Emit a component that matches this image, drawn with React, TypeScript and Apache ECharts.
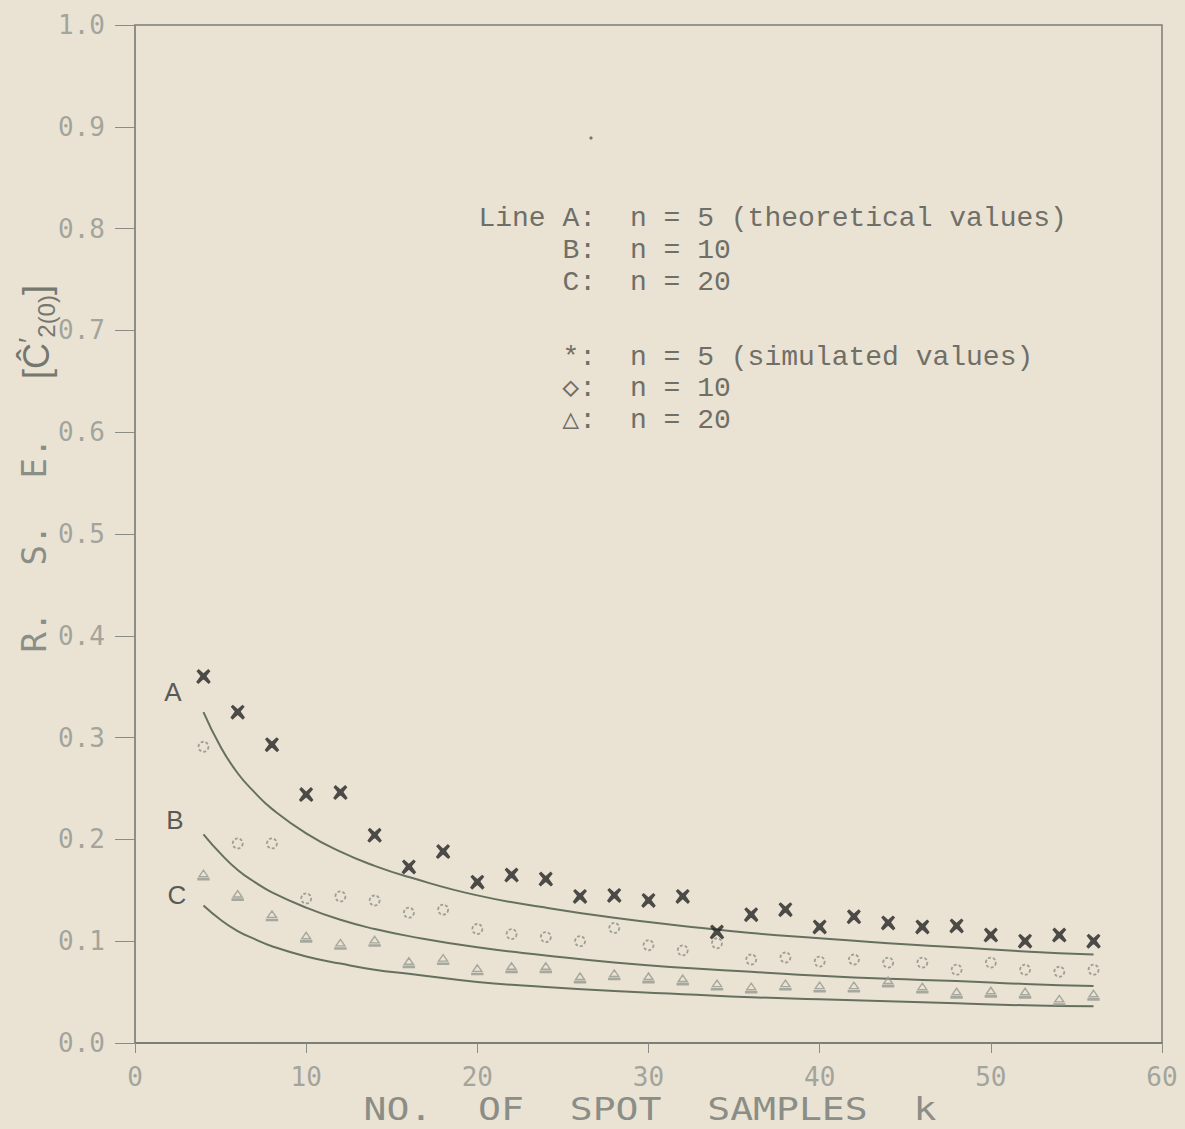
import { useEffect, useRef } from "react";
import * as echarts from "echarts";

// k values (number of spot samples) for simulated points
const K = [4, 6, 8, 10, 12, 14, 16, 18, 20, 22, 24, 26, 28, 30, 32, 34, 36, 38, 40, 42, 44, 46, 48, 50, 52, 54, 56];
// simulated values, n = 5 (stars)
const STAR = [0.360, 0.325, 0.293, 0.244, 0.246, 0.204, 0.173, 0.188, 0.158, 0.165, 0.161, 0.144, 0.145, 0.140, 0.144, 0.109, 0.126, 0.131, 0.114, 0.124, 0.118, 0.114, 0.115, 0.106, 0.100, 0.106, 0.100];
// simulated values, n = 10 (circles)
const CIRC = [0.291, 0.196, 0.196, 0.142, 0.144, 0.140, 0.128, 0.131, 0.112, 0.107, 0.104, 0.100, 0.113, 0.096, 0.091, 0.098, 0.082, 0.084, 0.080, 0.082, 0.079, 0.079, 0.072, 0.079, 0.072, 0.070, 0.072];
// simulated values, n = 20 (triangles)
const TRI = [0.165, 0.145, 0.125, 0.104, 0.097, 0.100, 0.079, 0.082, 0.072, 0.074, 0.074, 0.064, 0.067, 0.064, 0.062, 0.057, 0.054, 0.057, 0.055, 0.055, 0.060, 0.054, 0.049, 0.050, 0.049, 0.042, 0.047];

// theoretical curves
const KL = [4, 5, 6, 7, 8, 10, 12, 14, 16, 20, 24, 28, 32, 36, 40, 44, 48, 52, 56];
const LINE_A = [0.325, 0.291, 0.265, 0.246, 0.230, 0.206, 0.188, 0.174, 0.163, 0.145, 0.133, 0.123, 0.115, 0.108, 0.103, 0.098, 0.094, 0.090, 0.087];
const LINE_B = [0.205, 0.186, 0.170, 0.158, 0.148, 0.133, 0.121, 0.112, 0.105, 0.094, 0.086, 0.079, 0.074, 0.070, 0.066, 0.063, 0.061, 0.058, 0.056];
const LINE_C = [0.135, 0.121, 0.110, 0.102, 0.095, 0.085, 0.078, 0.072, 0.068, 0.060, 0.055, 0.051, 0.048, 0.045, 0.043, 0.041, 0.039, 0.037, 0.036];

const LEGEND_KEYS = ["Line A:", "B:", "C:", "*:", "\u25C7:", "\u25B3:"];
const LEGEND_TEXT = ["n = 5 (theoretical values)", "n = 10", "n = 20", "n = 5 (simulated values)", "n = 10", "n = 20"];
const CURVE_LABELS = ["A", "B", "C"];
const X_TITLE = "NO.  OF  SPOT  SAMPLES  k";
const Y_TITLE_PARTS = ["R.", "S.", "E."];

const BG = "#eae3d4";
const STAR_PATH =
  "path://M-6.5,-5 L-4.5,-7 L0,-3 L4.5,-7 L6.5,-5 L2.8,-0.5 L6.8,5 L4.8,7 L0,2.6 L-4.8,7 L-6.8,5 L-2.8,-0.5 Z M-3,-3 L3,-3 L3,3 L-3,3 Z";
const TRI_PATH = "path://M0,-4.5 L4.5,2 L-4.5,2 Z M-5.5,4 L5.5,4 L5.5,5.2 L-5.5,5.2 Z";

export default function App() {
  const ref = useRef<HTMLDivElement>(null);
  useEffect(() => {
    if (!ref.current) return;
    const chart = echarts.init(ref.current, null, { renderer: "svg" });
    const mono = "'DejaVu Sans Mono', monospace";
    const type = "'Liberation Mono', monospace";
    const legendRows = [218, 250, 282, 357, 388, 420];
    const graphic: any[] = [];
    LEGEND_KEYS.forEach((k, i) => {
      graphic.push({
        type: "text",
        x: 596,
        y: legendRows[i],
        style: { text: k, font: `28px ${type}`, fill: "#6f6f68", align: "right", verticalAlign: "middle" },
      });
      graphic.push({
        type: "text",
        x: 630,
        y: legendRows[i],
        style: { text: LEGEND_TEXT[i], font: `28px ${type}`, fill: "#6f6f68", align: "left", verticalAlign: "middle" },
      });
    });
    graphic.push({ type: "circle", shape: { cx: 591, cy: 138, r: 1.6 }, style: { fill: "#777" } });
    const curvePos = [
      [173, 692],
      [175, 820],
      [177, 895],
    ];
    CURVE_LABELS.forEach((c, i) => {
      graphic.push({
        type: "text",
        x: curvePos[i][0],
        y: curvePos[i][1],
        style: { text: c, font: "26px 'Liberation Sans', sans-serif", fill: "#5a5a55", align: "center", verticalAlign: "middle" },
      });
    });
    const yT = [632, 545, 458];
    Y_TITLE_PARTS.forEach((t, i) => {
      graphic.push({
        type: "text",
        x: 34,
        y: yT[i],
        rotation: Math.PI / 2,
        style: { text: t, font: `34px ${mono}`, fill: "#8a8e86", align: "center", verticalAlign: "middle" },
      });
    });
    graphic.push({
      type: "text",
      x: 36,
      y: 332,
      rotation: Math.PI / 2,
      style: {
        text: "{m|[Ĉ}{p|′}{s|2(0)}{m|]}",
        align: "center",
        verticalAlign: "middle",
        rich: {
          m: { font: "36px 'Liberation Sans', sans-serif", fill: "#75786f", lineHeight: 44, verticalAlign: "middle" },
          p: { font: "28px 'Liberation Sans', sans-serif", fill: "#75786f", lineHeight: 44, verticalAlign: "top" },
          s: { font: "24px 'Liberation Sans', sans-serif", fill: "#75786f", lineHeight: 44, verticalAlign: "bottom" },
        },
      },
    });
    graphic.push({
      type: "text",
      x: 650,
      y: 1109,
      scaleX: 1.19,
      style: { text: X_TITLE, font: `32px ${mono}`, fill: "#8a8e86", align: "center", verticalAlign: "middle" },
    });

    const lineStyle = { color: "#66705f", width: 2 };
    chart.setOption({
      animation: false,
      backgroundColor: BG,
      grid: { left: 135, right: 23, top: 25, bottom: 86, show: true, borderColor: "#7b7d75", borderWidth: 1.5 },
      xAxis: {
        type: "value",
        min: 0,
        max: 60,
        interval: 10,
        axisLine: { show: true, lineStyle: { color: "#74776f", width: 1.5 } },
        axisTick: { show: true, inside: false, length: 10, lineStyle: { color: "#8a8c85" } },
        axisLabel: { margin: 21, fontFamily: "DejaVu Sans Mono", fontSize: 26, color: "#a3a49c" },
        splitLine: { show: false },
      },
      yAxis: {
        type: "value",
        min: 0,
        max: 1,
        interval: 0.1,
        axisLine: { show: true, lineStyle: { color: "#8a8c85", width: 1.5 } },
        axisTick: { show: true, inside: false, length: 20, lineStyle: { color: "#8a8c85" } },
        axisLabel: {
          margin: 30,
          fontFamily: "DejaVu Sans Mono",
          fontSize: 26,
          color: "#a3a49c",
          formatter: (v: number) => v.toFixed(1),
        },
        splitLine: { show: false },
      },
      graphic,
      series: [
        { type: "line", data: KL.map((k, i) => [k, LINE_A[i]]), smooth: true, showSymbol: false, lineStyle, z: 2 },
        { type: "line", data: KL.map((k, i) => [k, LINE_B[i]]), smooth: true, showSymbol: false, lineStyle, z: 2 },
        { type: "line", data: KL.map((k, i) => [k, LINE_C[i]]), smooth: true, showSymbol: false, lineStyle, z: 2 },
        {
          type: "scatter",
          data: K.map((k, i) => [k, STAR[i]]),
          symbol: STAR_PATH,
          symbolSize: 15,
          symbolKeepAspect: true,
          itemStyle: { color: "#232323" },
          z: 3,
        },
        {
          type: "scatter",
          data: K.map((k, i) => [k, CIRC[i]]),
          symbol: "circle",
          symbolSize: 10,
          itemStyle: { color: "transparent", borderColor: "#8a8d86", borderWidth: 1.8, borderType: [3, 2] },
          z: 3,
        },
        {
          type: "scatter",
          data: K.map((k, i) => [k, TRI[i]]),
          symbol: TRI_PATH,
          symbolSize: 11,
          symbolKeepAspect: true,
          itemStyle: { color: "transparent", borderColor: "#959890", borderWidth: 1.4 },
          z: 3,
        },
      ],
    });
    return () => chart.dispose();
  }, []);
  return <div ref={ref} style={{ position: "absolute", left: 0, top: 0, width: 1185, height: 1129, background: BG }} />;
}
